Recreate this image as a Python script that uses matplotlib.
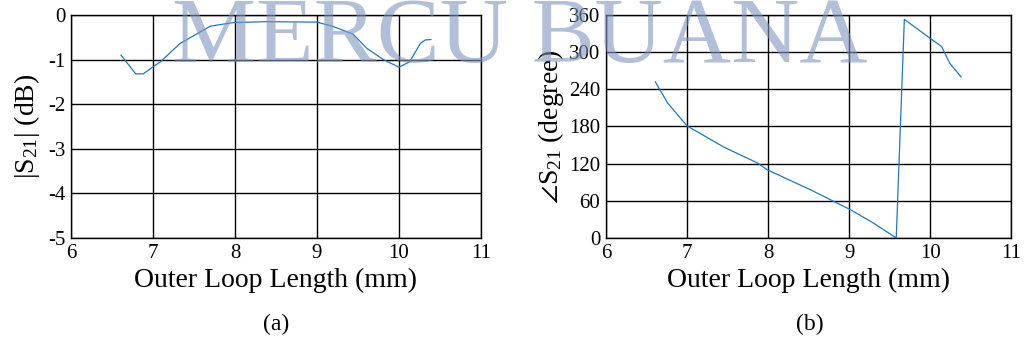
import numpy as np
import matplotlib.pyplot as plt

# =====================================================
# Data
# =====================================================

# |S21| versus outer loop length
mag_len = [6.61, 6.79, 6.88, 7.09, 7.33, 7.70, 7.98, 8.39, 9.00, 9.20,
           9.44, 9.61, 9.81, 10.00, 10.13, 10.26, 10.32, 10.39]
mag_db = [-0.90, -1.32, -1.32, -1.05, -0.64, -0.25, -0.17, -0.15, -0.16, -0.26,
          -0.43, -0.75, -1.00, -1.17, -1.05, -0.64, -0.56, -0.55]

# phase of S21 versus outer loop length
ph_len = [6.61, 6.76, 7.00, 7.45, 7.87, 7.99, 8.52, 9.01, 9.30, 9.58,
          9.68, 9.97, 10.14, 10.24, 10.38]
ph_deg = [252, 218, 181, 147, 121, 110, 78, 46, 24, 0,
          353, 325, 309, 282, 260]

mag_ticks = [0, -1, -2, -3, -4, -5]
ph_ticks = [0, 60, 120, 180, 240, 300, 360]
len_ticks = [6, 7, 8, 9, 10, 11]

# =====================================================
# Style
# =====================================================

plt.rcParams['font.family'] = ['Liberation Serif', 'DejaVu Serif']
plt.rcParams['mathtext.fontset'] = 'custom'
plt.rcParams['mathtext.rm'] = 'Liberation Serif'
plt.rcParams['mathtext.it'] = 'Liberation Serif:italic'
plt.rcParams['mathtext.fallback'] = 'stix'
plt.rcParams['axes.unicode_minus'] = False

LINE_COLOR = '#1f78c1'

fig = plt.figure(figsize=(10.27, 3.52), dpi=100)

ax1 = fig.add_axes([0.0691, 0.3239, 0.3992, 0.6335])
ax2 = fig.add_axes([0.5900, 0.3239, 0.3948, 0.6335])


def style_axes(ax):
    ax.grid(True, color='black', linewidth=1.0)
    ax.set_axisbelow(True)
    ax.tick_params(length=0, labelsize=15, pad=4)
    for s in ax.spines.values():
        s.set_linewidth(1.0)
        s.set_color('black')
    ax.set_xlim(6, 11)
    ax.set_xticks(len_ticks)
    ax.set_xlabel('Outer Loop Length (mm)', fontsize=20, labelpad=4)


# =====================================================
# (a) magnitude
# =====================================================

ax1.plot(mag_len, mag_db, color=LINE_COLOR, linewidth=0.9)
style_axes(ax1)
ax1.set_ylim(-5, 0)
ax1.set_yticks(mag_ticks)
ax1.set_ylabel(r'|S$_{21}$| (dB)', fontsize=20, labelpad=4)

# =====================================================
# (b) phase
# =====================================================

ax2.plot(ph_len, ph_deg, color=LINE_COLOR, linewidth=0.9)
style_axes(ax2)
ax2.set_ylim(0, 360)
ax2.set_yticks(ph_ticks)
ax2.set_ylabel(r'$\angle$S$_{21}$ (degree)', fontsize=20, labelpad=2)

# =====================================================
# Captions and watermark
# =====================================================

fig.text(0.269, 0.077, '(a)', fontsize=17, ha='center', va='center')
fig.text(0.789, 0.077, '(b)', fontsize=17, ha='center', va='center')

fig.text(0.506, 0.824, 'MERCU BUANA', fontsize=68, ha='center',
         va='baseline', color='#7f95c0', alpha=0.6, zorder=10)

plt.savefig('out.png', dpi=100)
